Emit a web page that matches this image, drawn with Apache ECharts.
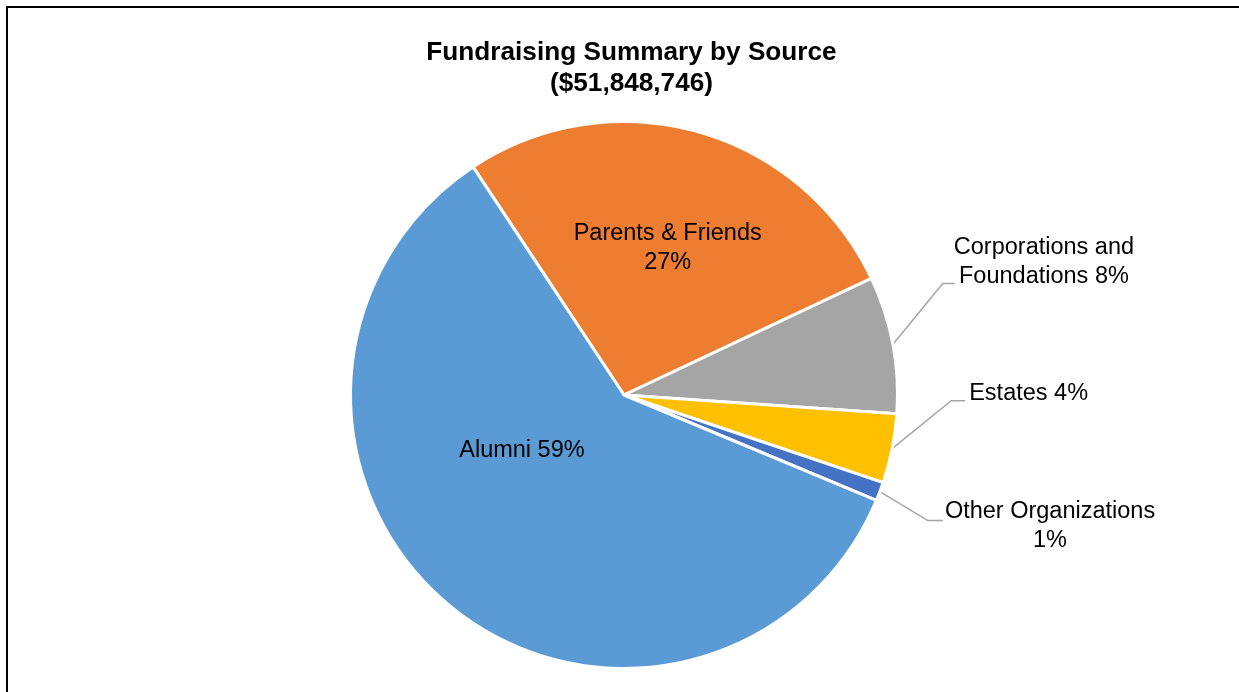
<!DOCTYPE html>
<html>
<head>
<meta charset="utf-8">
<script src="https://cdn.jsdelivr.net/npm/echarts@6/dist/echarts.min.js"></script>
<style>
html,body{margin:0;padding:0;background:#fff;}
#chart{width:1239px;height:692px;}
</style>
</head>
<body>
<div id="chart"></div>
<script>
// ---- data ----
const categories = ['Parents & Friends', 'Corporations and Foundations', 'Estates', 'Other Organizations', 'Alumni'];
const shares = [27.3, 8.1, 4.1, 1.1, 59.4];           // percent of total funds raised
const titleLines = ['Fundraising Summary by Source', '($51,848,746)'];

// ---- style ----
const colors = ['#ED7D31', '#A5A5A5', '#FFC000', '#4472C4', '#5B9BD5'];
const insideShift = {             // nudge of inside labels from their default spot
  0: [6, -12],
  4: [-13, -52]
};
const leader = {                  // leader line shape for outside labels
  1: { seg: [50, -61], elbow: 12, gap: -1, dy: -21 },
  2: { seg: [59, -48], elbow: 14, gap: 4, dy: -7 },
  3: { seg: [48, 29], elbow: 15, gap: 2, dy: 5 }
};
const twoLine = { 0: true, 3: true };

function labelName(name) {
  return name === 'Corporations and Foundations' ? 'Corporations and\nFoundations' : name;
}

const data = categories.map((name, i) => {
  const item = { name: name, value: shares[i], itemStyle: { color: colors[i] } };
  if (insideShift[i]) {
    item.label = { position: 'inside' };
    item.labelLine = { show: false };
  } else {
    item.label = { position: 'outside' };
    item.labelLine = { show: true };
  }
  return item;
});

const chart = echarts.init(document.getElementById('chart'), null, { renderer: 'canvas' });
chart.setOption({
  animation: false,
  backgroundColor: '#ffffff',
  title: {
    text: titleLines.join('\n'),
    left: 631.5,
    top: 37,
    padding: 0,
    textAlign: 'center',
    textStyle: {
      fontFamily: 'Liberation Sans, Arial, sans-serif',
      fontSize: 26.2,
      fontWeight: 'bold',
      lineHeight: 31,
      color: '#000000'
    }
  },
  graphic: [{
    type: 'rect',
    shape: { x: 7, y: 7, width: 1400, height: 900 },
    style: { fill: 'none', stroke: '#000000', lineWidth: 2 },
    silent: true
  }],
  series: [{
    type: 'pie',
    center: [624, 395],
    radius: 273.5,
    startAngle: 123.5,
    clockwise: true,
    avoidLabelOverlap: false,
    emphasis: { disabled: true },
    itemStyle: { borderColor: '#ffffff', borderWidth: 3 },
    label: {
      show: true,
      color: '#000000',
      fontFamily: 'Liberation Sans, Arial, sans-serif',
      fontSize: 23.5,
      lineHeight: 29,
      align: 'center',
      formatter: function (p) {
        const sep = twoLine[p.dataIndex] ? '\n' : ' ';
        return labelName(p.name) + sep + Math.round(p.percent) + '%';
      }
    },
    labelLine: {
      show: true,
      length: 20,
      length2: 12,
      smooth: false,
      lineStyle: { color: '#A5A5A5', width: 1.5 }
    },
    labelLayout: function (p) {
      const s = insideShift[p.dataIndex];
      if (s) {
        const r = p.labelRect;
        return {
          x: r.x + r.width / 2 + s[0],
          y: r.y + r.height / 2 + s[1],
          align: 'center',
          verticalAlign: 'middle'
        };
      }
      const c = leader[p.dataIndex];
      if (!c || !p.labelLinePoints) return {};
      const p0 = p.labelLinePoints[0];
      const p1 = [p0[0] + c.seg[0], p0[1] + c.seg[1]];
      const p2 = [p1[0] + c.elbow, p1[1]];
      return {
        x: p2[0] + c.gap + p.labelRect.width / 2,
        y: p2[1] + c.dy,
        align: 'center',
        verticalAlign: 'middle',
        labelLinePoints: [p0, p1, p2]
      };
    },
    data: data
  }]
});
</script>
</body>
</html>
